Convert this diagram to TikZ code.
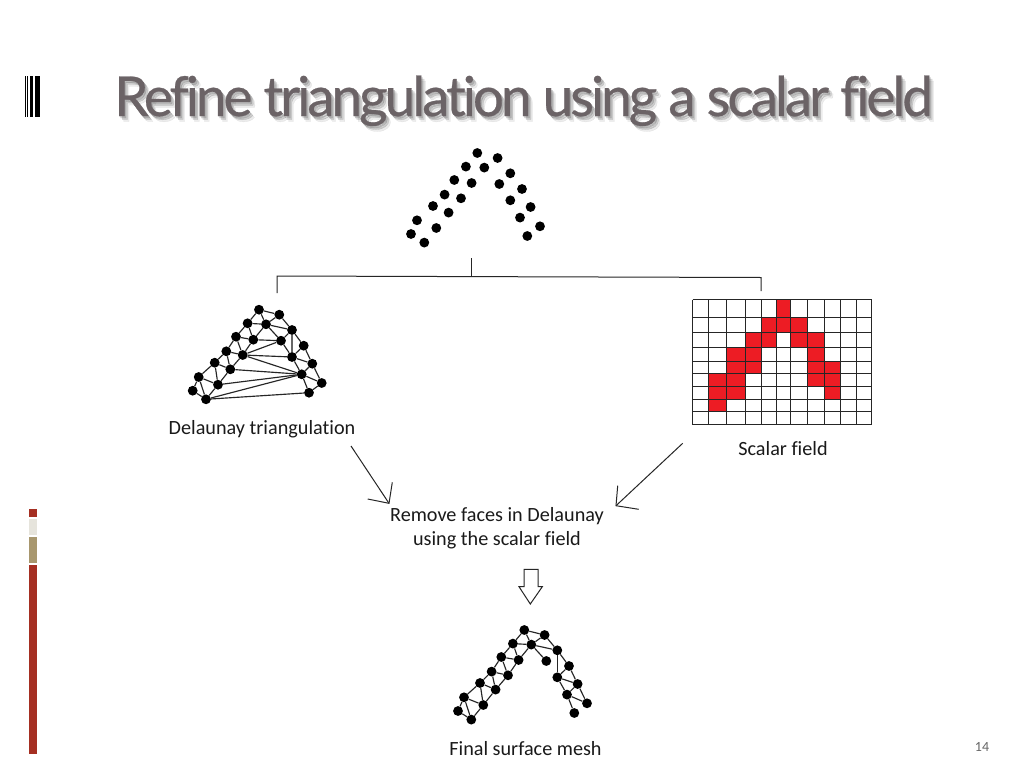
\documentclass[tikz,border=0pt]{standalone}
\usepackage{fontspec}
\setmainfont[Ligatures=NoCommon]{Carlito}
\newfontfamily\titlefont[LetterSpace=-5.6,Ligatures=NoCommon,FakeBold=0.5]{Lato}
\usetikzlibrary{calc}
\definecolor{titlegrey}{HTML}{6B6366}
\definecolor{barred}{HTML}{A52F22}
\definecolor{barlight}{HTML}{E6E4DC}
\definecolor{bartan}{HTML}{A8976E}
\definecolor{cellred}{HTML}{ED1C24}
\definecolor{labelink}{HTML}{1A1A1A}
\tikzset{
  dotnode/.style={circle,fill=black,draw=none,minimum size=9.8pt,inner sep=0pt},
  meshedge/.style={line width=1.15pt,draw=black!85},
  gridline/.style={line width=1pt,draw=black!85},
  connector/.style={line width=1pt,draw=black!85},
  label/.style={font=\fontsize{20.2}{24}\selectfont,text=labelink,align=center,inner sep=0pt},
  titletext/.style={font=\titlefont\fontsize{55}{60}\selectfont,inner sep=0pt,anchor=base west},
}
\newcommand{\placedots}[2]{%
  \foreach \nm/\px/\py in {a/0/0,b/20.3/5,c/-11.4/13.6,d/7/14.6,e/33/20.3,f/-23/27,g/-5.7/30,h/22/31,i/44.7/36,j/-32.7/41.6,k/-16.3/45.3,l/33/47.3,m/53.3/54,n/-44.3/53,o/-28.7/59.6,p/42.7/64.6,q/-60.3/67.3,r/-41/75,s/62.7/73.3,t/-66.3/81,u/50/83,v/-53/89.6}{%
    \node[dotnode] (#1\nm) at ($(#2)+(\px,\py)$) {};}}
\begin{document}
\begin{tikzpicture}[x=1pt,y=-1pt]
\useasboundingbox (0,0) rectangle (1024,768);
\fill[white] (0,0) rectangle (1024,768);
% side decorations
\fill[barred] (28.5,508.5) rectangle (36.5,516.5);
\fill[barlight] (28.5,519) rectangle (36.5,535);
\fill[bartan] (28.5,537) rectangle (36.5,563);
\fill[barred] (28.5,565) rectangle (36.5,754);
\fill[black] (25,76) rectangle (25.6,117);
\fill[black] (27,76) rectangle (28,117);
\fill[black] (29.5,76) rectangle (33,117);
\fill[black] (35,76) rectangle (39.5,117);
% title
\foreach \dx/\dy/\op in {1.5/2/.22,3/3.5/.2,4.5/5.5/.1}{
  \node[titletext,text=black!70,opacity=\op] at (114+\dx,116+\dy) {Refine triangulation using a scalar field};}
\node[titletext,text=titlegrey] (title) at (114,116) {Refine triangulation using a scalar field};
% top points
\coordinate (top) at (477.3,153);
\placedots{T}{top}
% bracket
\coordinate (st) at (471,258);
\coordinate (sb) at (471,277);
\coordinate (bl) at (277,276);
\coordinate (blb) at (277,293);
\coordinate (br) at (761,277.5);
\coordinate (brb) at (761,291);
\draw[connector] (st) -- (sb);
\draw[connector] (blb) -- (bl) -- (br) -- (brb);
% Delaunay
\coordinate (del) at (259,309.7);
\placedots{D}{del}
\foreach \u/\w in {a/b,a/c,a/d,b/d,b/e,c/d,c/f,c/g,d/g,d/e,d/h,e/h,e/i,f/g,f/j,f/k,g/k,g/h,h/k,h/l,i/l,i/m,j/k,j/n,j/o,k/o,k/l,k/p,l/m,l/p,m/p,m/s,n/o,n/q,n/r,o/r,o/p,q/r,q/t,q/v,r/v,r/p,t/v,v/p,v/u,p/s,p/u,s/u}{
  \draw[meshedge] (D\u) -- (D\w);}
\draw[meshedge,line width=1.6pt,draw=black!60] (De) -- (Dl);
% Final mesh
\coordinate (fin) at (524.3,630);
\placedots{F}{fin}
\foreach \u/\w in {a/b,a/c,a/d,b/d,b/e,c/d,c/f,c/g,d/g,d/e,d/h,e/l,e/i,f/g,f/j,f/k,g/k,j/k,j/n,j/o,k/o,n/o,n/q,n/r,o/r,q/r,q/t,q/v,r/v,t/v,i/l,i/m,l/m,l/p,m/p,m/s,p/s,p/u}{
  \draw[meshedge] (F\u) -- (F\w);}
% Scalar field
\def\cx{{692.5,708.5,726.5,745.5,761.5,776.5,790.5,807.5,824.5,840.5,856.5,871.5}}
\def\cy{{299.5,317.5,332.5,347.5,361.5,373.5,386.5,399.5,411.5,424.5}}
\foreach \cc/\rr in {5/0,4/1,5/1,6/1,3/2,4/2,6/2,7/2,2/3,3/3,7/3,2/4,3/4,7/4,8/4,1/5,2/5,7/5,8/5,1/6,2/6,8/6,1/7}{
  \pgfmathsetmacro{\xa}{\cx[\cc]}\pgfmathsetmacro{\xb}{\cx[\cc+1]}
  \pgfmathsetmacro{\ya}{\cy[\rr]}\pgfmathsetmacro{\yb}{\cy[\rr+1]}
  \fill[cellred] (\xa,\ya) rectangle (\xb,\yb);}
\foreach \k in {0,...,11}{
  \pgfmathsetmacro{\xa}{\cx[\k]}
  \draw[gridline] (\xa,299.5) -- (\xa,424.5);}
\foreach \k in {0,...,9}{
  \pgfmathsetmacro{\ya}{\cy[\k]}
  \draw[gridline] (692.5,\ya) -- (871.5,\ya);}
% labels
\node[label] (ldel) at (262,429) {Delaunay triangulation};
\node[label] (lsca) at (783,449) {Scalar field};
\node[label] (lrem) at (497,528) {Remove faces in Delaunay\\using the scalar field};
\node[label] (lfin) at (525.5,748.5) {Final surface mesh};
\node[font=\fontsize{14}{16}\selectfont,text=black!60,inner sep=0pt] (num) at (982,747) {14};
% arrows
\coordinate (a1) at (351,446);
\coordinate (a1t) at (389,503.3);
\coordinate (a1u) at (392.3,482.3);
\coordinate (a1v) at (367.7,499);
\draw[connector] (a1) -- (a1t);
\draw[connector] (a1u) -- (a1t) -- (a1v);
\coordinate (a2) at (682.7,443.3);
\coordinate (a2t) at (616,505.7);
\coordinate (a2u) at (617.7,485.7);
\coordinate (a2v) at (638.7,509.3);
\draw[connector] (a2) -- (a2t);
\draw[connector] (a2u) -- (a2t) -- (a2v);
\draw[line width=1pt,draw=black!85,fill=white] (524,569.3) -- (538,569.3) -- (538,586.7) -- (542.3,586.7) -- (530.3,604) -- (519,586.7) -- (524,586.7) -- cycle;
\end{tikzpicture}
\end{document}
